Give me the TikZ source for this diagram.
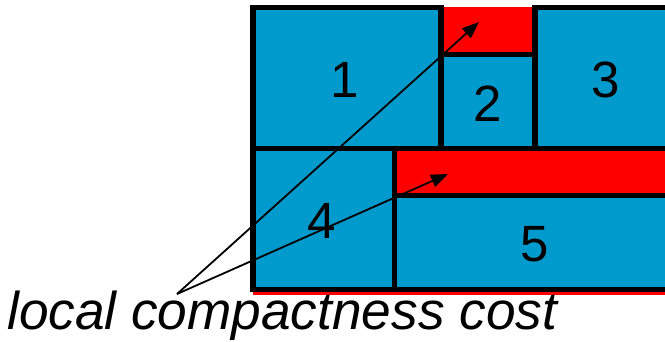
\documentclass[tikz,border=0pt]{standalone}
\usepackage{fontspec}
\setmainfont{Liberation Sans}
\usetikzlibrary{arrows.meta}
\definecolor{boxblue}{RGB}{0,154,204}
\tikzset{
  blk/.style={draw=black, line width=5.5pt, fill=boxblue},
  num/.style={font=\fontsize{51}{51}\selectfont, inner sep=0pt},
  arr/.style={line width=1.8pt, -{Triangle[length=17pt,width=13pt]}}
}
\begin{document}
\begin{tikzpicture}[x=1pt,y=-1pt]
\useasboundingbox (0,0) rectangle (665,342);
\begin{scope}
\clip (0,0) rectangle (665,342);
\fill[red] (253,7.5) rectangle (690,295);
\draw[blk] (253,7.5) rectangle (441,148.5);
\draw[blk] (441,54.5) rectangle (535,148.5);
\draw[blk] (535,7.5) rectangle (690,148.5);
\draw[blk] (253,148.5) rectangle (394.5,289.5);
\draw[blk] (394.5,195.5) rectangle (690,289.5);
\end{scope}
\node[num] (n1) at (345,80) {1};
\node[num] (n2) at (488,103.5) {2};
\node[num] (n3) at (606,80) {3};
\node[num] (n4) at (322,221) {4};
\node[num] (n5) at (535,244.5) {5};
\node[anchor=base west, inner sep=0pt, font=\fontsize{53.2}{53.2}\selectfont\itshape] (lbl) at (7,330) {local compactness cost};
\coordinate (apex) at (177,294);
\coordinate (tipA) at (479,22);
\coordinate (tipB) at (448,174);
\draw[arr] (apex) -- (tipA);
\draw[arr] (apex) -- (tipB);
\end{tikzpicture}
\end{document}
